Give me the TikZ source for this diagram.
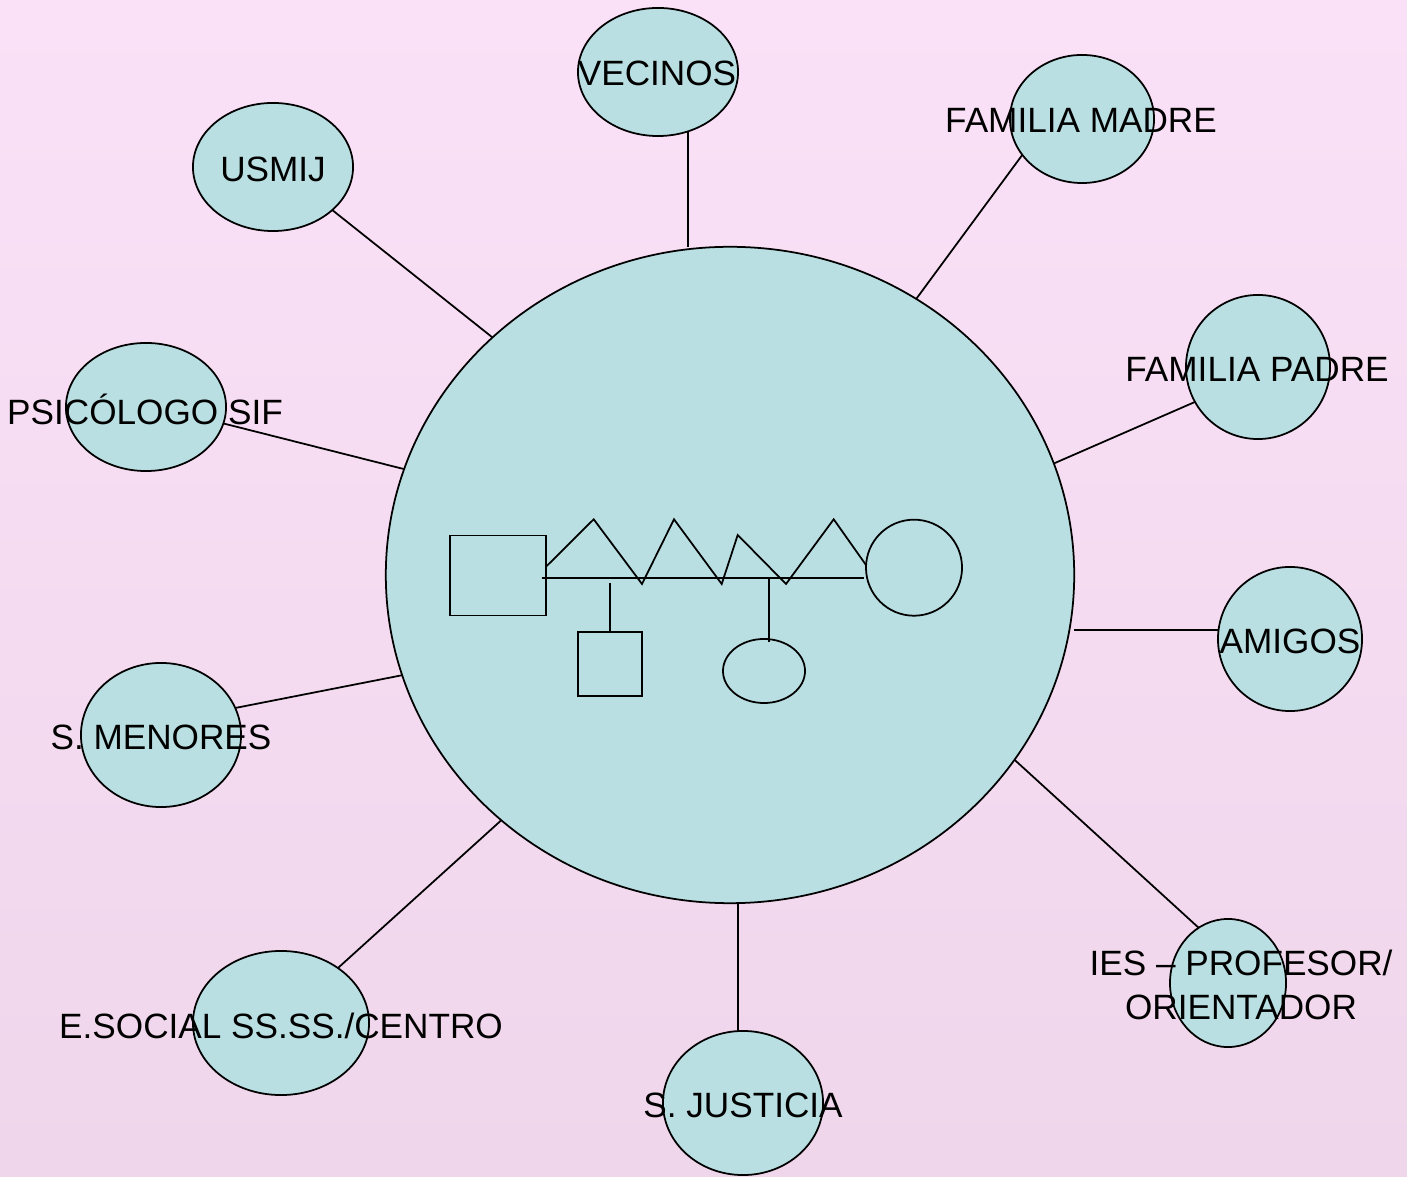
\documentclass[tikz,border=0pt]{standalone}
\usepackage{fontspec}
\setmainfont{Liberation Sans}
\usetikzlibrary{shapes.geometric}
\definecolor{bgtop}{RGB}{250,225,247}
\definecolor{bgbot}{RGB}{239,214,235}
\definecolor{nodefill}{RGB}{185,223,226}

\begin{document}
\begin{tikzpicture}[x=0.01cm,y=-0.01cm,
	sat/.style={ellipse,draw,fill=nodefill,inner sep=0pt,outer sep=0pt,line width=0.5pt},
	lbl/.style={font=\fontsize{10}{12.5}\selectfont,inner sep=0pt,align=center},
	con/.style={line width=0.5pt},
	geno/.style={draw,inner sep=0pt,outer sep=0pt,line width=0.5pt}]
	\useasboundingbox (0,0) rectangle (1407,1177);
	\shade[top color=bgtop,bottom color=bgbot] (0,0) rectangle (1407,1177);

	% red en torno al menor
	\node[sat,minimum width=6.88cm,minimum height=6.56cm] (centro) at (730,575) {};
	\node[sat,minimum width=1.6cm,minimum height=1.28cm] (vecinos) at (658,72) {};
	\node[sat,minimum width=1.44cm,minimum height=1.28cm] (fmadre) at (1082,119) {};
	\node[sat,minimum width=1.6cm,minimum height=1.28cm] (usmij) at (273,167) {};
	\node[sat,minimum width=1.44cm,minimum height=1.44cm] (fpadre) at (1258,367) {};
	\node[sat,minimum width=1.6cm,minimum height=1.28cm] (psico) at (146,407) {};
	\node[sat,minimum width=1.44cm,minimum height=1.44cm] (amigos) at (1290,639) {};
	\node[sat,minimum width=1.6cm,minimum height=1.44cm] (menores) at (161,735) {};
	\node[sat,minimum width=1.16cm,minimum height=1.28cm] (ies) at (1228,983) {};
	\node[sat,minimum width=1.76cm,minimum height=1.44cm] (esocial) at (281,1023) {};
	\node[sat,minimum width=1.6cm,minimum height=1.44cm] (justicia) at (743,1103) {};

	\draw[con] (vecinos.-63) -- (vecinos.-63 |- centro.north);
	\draw[con] (fmadre.211) -- (centro.56.5);
	\draw[con] (usmij.-36.4) -- (centro.135);
	\draw[con] (fpadre.209.7) -- (centro.19.3);
	\draw[con] (psico.-12.1) -- (centro.162.4);
	\draw[con] (amigos.173.7) -- (amigos.173.7 -| centro.east);
	\draw[con] (menores.20.3) -- (centro.197.8);
	\draw[con] (ies.118.4) -- (centro.-33.4);
	\draw[con] (esocial.44.5) -- (centro.227);
	\draw[con] (justicia.94) -- (justicia.94 |- centro.south);

	\node[lbl] (tvecinos) at (657,73) {VECINOS};
	\node[lbl] (tfmadre) at (1081,120) {FAMILIA MADRE};
	\node[lbl] (tusmij) at (273,169) {USMIJ};
	\node[lbl] (tfpadre) at (1257,369) {FAMILIA PADRE};
	\node[lbl] (tpsico) at (145,409) {PSICÓLOGO SIF};
	\node[lbl] (tamigos) at (1290,641) {AMIGOS};
	\node[lbl] (tmenores) at (161,737) {S. MENORES};
	\node[lbl] (ties) at (1241,985) {IES – PROFESOR/\\ORIENTADOR};
	\node[lbl] (tesocial) at (281,1026) {E.SOCIAL SS.SS./CENTRO};
	\node[lbl] (tjusticia) at (743,1105) {S. JUSTICIA};

	% genograma
	\node[geno,rectangle,minimum width=0.96cm,minimum height=0.80cm] (padre) at (498,575.5) {};
	\node[geno,circle,minimum size=0.96cm] (madre) at (914,567.7) {};
	\node[geno,rectangle,minimum width=0.645cm,minimum height=0.64cm] (hijo) at (610,663.7) {};
	\node[geno,ellipse,minimum width=0.82cm,minimum height=0.64cm] (hija) at (764,671) {};
	\coordinate (union1) at (541.7,578);
	\coordinate (union2) at (863.7,578);
	\draw[con] (union1) -- (union2);
	\draw[con] (padre.east |- 0,566.7) -- (593.7,519.3) -- (642,584) -- (674,519.3) -- (721.7,584)
		-- (737.7,535) -- (786,584) -- (833.7,519.3) -- (madre.west |- 0,565);
	\draw[con] (610,583) -- (hijo.north);
	\draw[con] (768.7,578) -- (768.7,642);
\end{tikzpicture}
\end{document}
